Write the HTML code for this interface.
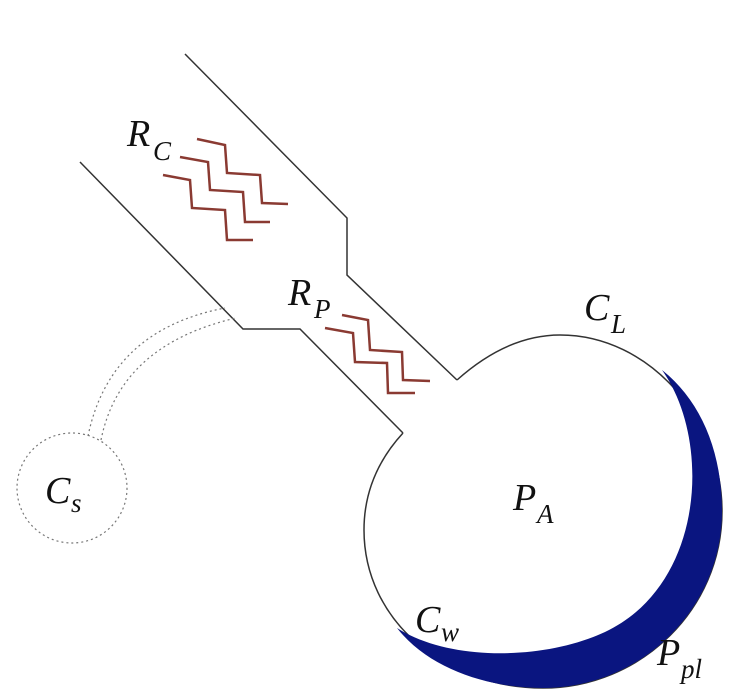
<!DOCTYPE html>
<html><head><style>body{margin:0;background:#fff}svg{display:block}
text{font-family:"Liberation Serif",serif;font-style:italic;fill:#111}</style></head>
<body>
<svg width="747" height="697" viewBox="0 0 747 697" xmlns="http://www.w3.org/2000/svg">
<g fill="none" stroke="#333" stroke-width="1.5">
<polyline points="185,54 347,218 347,275 457,380"/>
<polyline points="80,162 243,329 300,329 403,433"/>
<path d="M457,380 C485,355 520,335 560,335 C650,335 722,420 722,511 C722,610 640,688 543,688 C444,688 364,620 364,530 C364,490 380,458 403,433"/>
</g>
<path d="M397,628 C430,670 490,688 543,688 C640,688 722,610 722,511 C722,450 700,400 662,370 C712,440 705,585 605,632 C545,660 450,662 397,628 Z" fill="#0a1580"/>
<g fill="none" stroke="#777" stroke-width="1.2" stroke-dasharray="2,3">
<circle cx="72" cy="488" r="55"/>
<path d="M88,436 Q110,330 225,308"/>
<path d="M101,440 Q120,345 236,318"/>
</g>
<g fill="none" stroke="#8a3a32" stroke-width="2.5">
<polyline points="197,139 225,145 227,173 260,175 262,203 288,204"/>
<polyline points="180,157 208,162 210,190 243,192 245,222 270,222"/>
<polyline points="163,175 190,180 192,208 225,210 227,240 253,240"/>
<polyline points="342,315 368,320 370,350 402,352 403,380 430,381"/>
<polyline points="325,328 353,333 355,362 387,363 388,393 415,393"/>
</g>
<text x="127" y="146" font-size="38">R</text><text x="153" y="160" font-size="27">C</text>
<text x="288" y="305" font-size="38">R</text><text x="314" y="318" font-size="27">P</text>
<text x="584" y="320" font-size="38">C</text><text x="611" y="333" font-size="27">L</text>
<text x="513" y="510" font-size="38">P</text><text x="537" y="523" font-size="27">A</text>
<text x="415" y="632" font-size="38">C</text><text x="441" y="641" font-size="27">w</text>
<text x="657" y="665" font-size="38">P</text><text x="681" y="678" font-size="27">pl</text>
<text x="45" y="503" font-size="38">C</text><text x="71" y="512" font-size="27">s</text>
</svg>
</body></html>
